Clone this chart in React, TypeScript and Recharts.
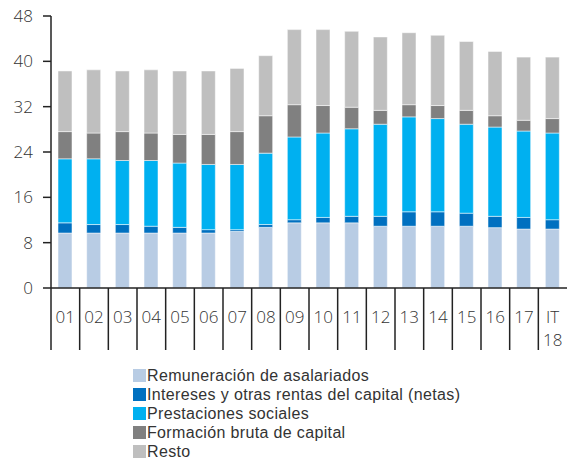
import React from 'react';
import { BarChart, Bar, XAxis, YAxis } from 'recharts';

const categories = ['01', '02', '03', '04', '05', '06', '07', '08', '09', '10', '11', '12', '13', '14', '15', '16', '17', 'IT 18'];
const remuneracion = [9.7, 9.7, 9.7, 9.7, 9.7, 9.7, 10.0, 10.7, 11.5, 11.5, 11.5, 10.9, 10.9, 10.9, 10.9, 10.65, 10.4, 10.4];
const intereses = [1.8, 1.5, 1.5, 1.2, 1.0, 0.6, 0.3, 0.5, 0.55, 0.95, 1.15, 1.75, 2.55, 2.55, 2.3, 2.0, 2.05, 1.65];
const prestaciones = [11.3, 11.6, 11.3, 11.6, 11.35, 11.5, 11.5, 12.6, 14.6, 14.9, 15.45, 16.25, 16.75, 16.45, 15.7, 15.75, 15.25, 15.3];
const formacion = [4.8, 4.55, 5.1, 4.85, 5.05, 5.3, 5.8, 6.6, 5.7, 4.85, 3.8, 2.45, 2.15, 2.3, 2.45, 2.0, 1.9, 2.55];
const resto = [10.7, 11.15, 10.7, 11.15, 11.2, 11.2, 11.15, 10.6, 13.25, 13.4, 13.4, 12.95, 12.7, 12.4, 12.15, 11.35, 11.15, 10.85];
const yTicks = [0, 8, 16, 24, 32, 40, 48];

const series = [
  { key: 'remuneracion', name: 'Remuneración de asalariados', color: '#b8cce4' },
  { key: 'intereses', name: 'Intereses y otras rentas del capital (netas)', color: '#0070c0' },
  { key: 'prestaciones', name: 'Prestaciones sociales', color: '#00b0f0' },
  { key: 'formacion', name: 'Formación bruta de capital', color: '#808080' },
  { key: 'resto', name: 'Resto', color: '#bfbfbf' },
];

const data = categories.map((c, i) => ({
  cat: c,
  remuneracion: remuneracion[i],
  intereses: intereses[i],
  prestaciones: prestaciones[i],
  formacion: formacion[i],
  resto: resto[i],
}));

const FONT = '"Open Sans", sans-serif';
const LEGEND_FONT = '"Liberation Sans", Arial, sans-serif';
const BAND = 516 / categories.length;

const CatTick = (props: any) => {
  const { x, y, payload } = props;
  const lines = String(payload.value).split(' ');
  return (
    <g>
      <line x1={x - BAND / 2} x2={x - BAND / 2} y1={y} y2={y + 62} stroke="#222" strokeWidth={1.5} />
      {lines.map((t, i) => (
        <text key={i} x={x} y={y + 35 + i * 23} textAnchor="middle" fontSize={17} fontWeight={300} fill="#333" fontFamily={FONT}>
          {t}
        </text>
      ))}
    </g>
  );
};

export default function App() {
  return (
    <div style={{ position: 'absolute', left: 0, top: 0, width: 567, height: 461, background: '#fff' }}>
      <BarChart width={567} height={461} data={data} margin={{ top: 16, right: 0, left: 0, bottom: 111 }} barSize={14}>
        <XAxis
          dataKey="cat"
          height={62}
          interval={0}
          tickLine={false}
          tickSize={0}
          tickMargin={0}
          tick={<CatTick />}
          axisLine={{ stroke: '#222', strokeWidth: 1.5 }}
        />
        <YAxis
          width={51}
          domain={[0, 48]}
          ticks={yTicks}
          interval={0}
          tickSize={8}
          tickMargin={10}
          axisLine={{ stroke: '#222', strokeWidth: 1.5 }}
          tickLine={{ stroke: '#222', strokeWidth: 1.5 }}
          tick={{ fontSize: 17, fontWeight: 300, fill: '#333', fontFamily: FONT }}
        />
        {series.map((s) => (
          <Bar key={s.key} dataKey={s.key} name={s.name} stackId="a" fill={s.color} stroke="#ffffff" strokeOpacity={0.5} strokeWidth={1} isAnimationActive={false} />
        ))}
      </BarChart>
      <div style={{ position: 'absolute', left: 133, top: 366, fontFamily: LEGEND_FONT, fontSize: 16, letterSpacing: 0.35, color: '#333' }}>
        {series.map((s) => (
          <div key={s.key} style={{ display: 'flex', alignItems: 'center', height: 19, lineHeight: '19px' }}>
            <span style={{ display: 'inline-block', width: 13, height: 13, background: s.color, marginRight: 1 }} />
            <span>{s.name}</span>
          </div>
        ))}
      </div>
    </div>
  );
}
